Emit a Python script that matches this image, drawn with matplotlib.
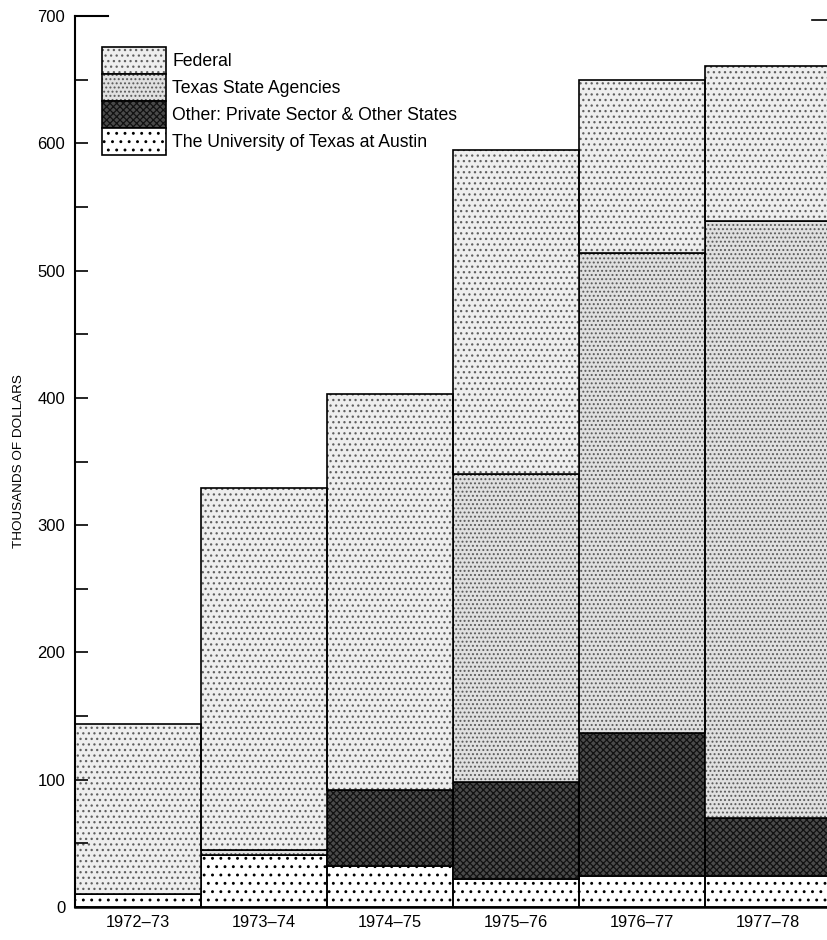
import matplotlib
matplotlib.use("Agg")
import matplotlib.pyplot as plt
from matplotlib.patches import Patch
from matplotlib.legend_handler import HandlerTuple

plt.rcParams['font.family'] = ['Liberation Sans', 'DejaVu Sans']
plt.rcParams['hatch.linewidth'] = 0.9

years = ["1972\u201373", "1973\u201374", "1974\u201375", "1975\u201376", "1976\u201377", "1977\u201378"]
ut_austin = [10, 41, 32, 22, 24, 24]
other = [0, 0, 60, 76, 113, 46]
texas = [0, 4, 0, 242, 377, 469]
federal = [134, 284, 311, 255, 136, 122]

names = ["The University of Texas at Austin",
         "Other: Private Sector & Other States",
         "Texas State Agencies",
         "Federal"]
series = [ut_austin, other, texas, federal]
# face colour, hatch, hatch colour
styles = [("white", "..", "black"),
          ("#4a4a4a", "xxxxx", "#111111"),
          ("#e0e0e0", "....", "#5a5a5a"),
          ("#eeeeee", "...", "#606060")]

fig = plt.figure(figsize=(8.27, 9.40), dpi=100)
ax = fig.add_axes([75/827, 33/940, 756/827, 891/940])

x = [i + 0.5 for i in range(len(years))]
bottom = [0] * len(years)
handles = []
for vals, name, (fc, hatch, hc) in zip(series, names, styles):
    ax.bar(x, vals, width=1.0, bottom=bottom, color=fc, hatch=hatch,
           edgecolor=hc, linewidth=0)
    ax.bar(x, vals, width=1.0, bottom=bottom, fill=False,
           edgecolor="black", linewidth=1.2)
    bottom = [b + v for b, v in zip(bottom, vals)]
    h1 = Patch(facecolor=fc, hatch=hatch, edgecolor=hc, linewidth=0)
    h2 = Patch(fill=False, edgecolor="black", linewidth=1.2)
    handles.append((h1, h2))

ax.set_xlim(0, 6)
ax.set_ylim(0, 700)
ax.set_yticks(range(0, 701, 100))
ax.set_yticks(range(50, 700, 100), minor=True)
ax.tick_params(axis='y', which='both', direction='in', length=9, width=1.2,
               labelsize=12, pad=7)
ax.set_xticks(x)
ax.set_xticklabels(years, fontsize=11.8)
ax.tick_params(axis='x', length=0, pad=6)
for s in ["top", "right"]:
    ax.spines[s].set_visible(False)
ax.spines["left"].set_linewidth(1.5)
ax.spines["bottom"].set_linewidth(1.8)
ax.set_ylabel("THOUSANDS OF DOLLARS", fontsize=9.7, labelpad=9)

# long tick at the top of the axis and short mark at right
ax.plot([0, 0.26], [700, 700], color="black", lw=1.5, clip_on=False)
ax.plot([5.85, 6.0], [697, 697], color="black", lw=1.2, clip_on=False)

leg = ax.legend(handles[::-1], names[::-1], loc="upper left",
                bbox_to_anchor=(102/827, 1 - 47/940), bbox_transform=fig.transFigure,
                frameon=False, fontsize=12.7, handlelength=3.63, handleheight=1.975,
                labelspacing=0, handletextpad=0.34, borderpad=0, borderaxespad=0,
                handler_map={tuple: HandlerTuple(ndivide=1, pad=0)})

fig.savefig("out.png", dpi=100)
